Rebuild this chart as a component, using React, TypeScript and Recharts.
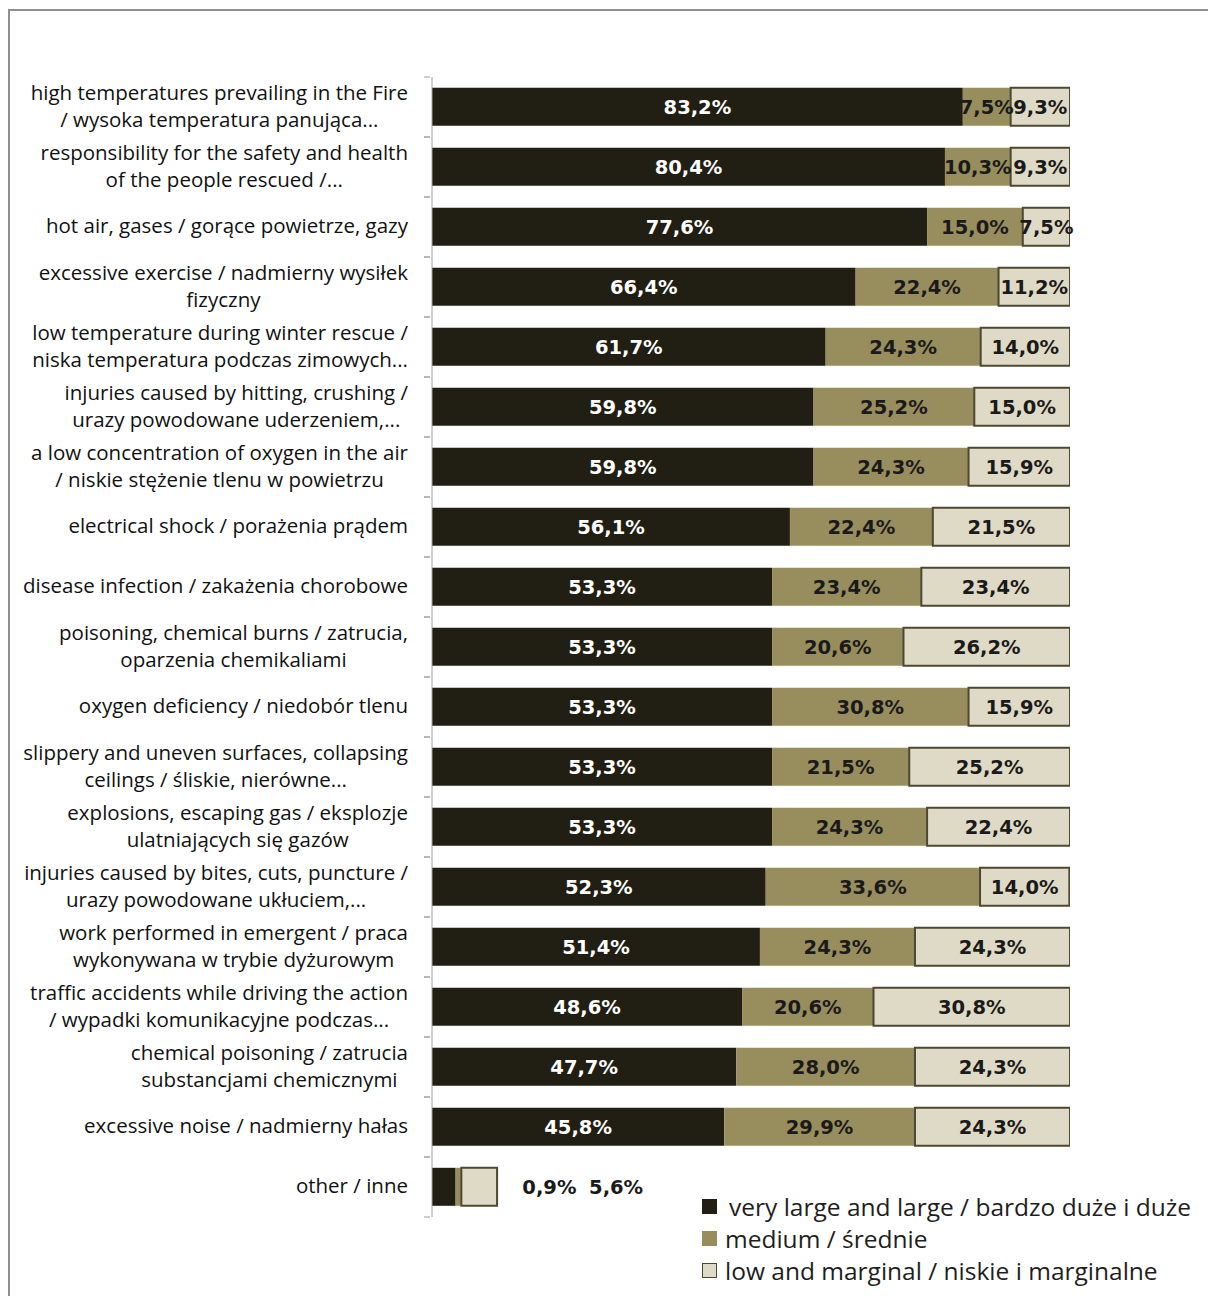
import { Bar, BarChart, LabelList, XAxis, YAxis } from "recharts"

const categoryLines = [
    ["high temperatures prevailing in the Fire", "/ wysoka temperatura panująca..."],
    ["responsibility for the safety and health", "of the people rescued /..."],
    ["hot air, gases / gorące powietrze, gazy"],
    ["excessive exercise / nadmierny wysiłek", "fizyczny"],
    ["low temperature during winter rescue /", "niska temperatura podczas zimowych..."],
    ["injuries caused by hitting, crushing /", "urazy powodowane uderzeniem,..."],
    ["a low concentration of oxygen in the air", "/ niskie stężenie tlenu w powietrzu"],
    ["electrical shock / porażenia prądem"],
    ["disease infection / zakażenia chorobowe"],
    ["poisoning, chemical burns / zatrucia,", "oparzenia chemikaliami"],
    ["oxygen deficiency / niedobór tlenu"],
    ["slippery and uneven surfaces, collapsing", "ceilings / śliskie, nierówne..."],
    ["explosions, escaping gas / eksplozje", "ulatniających się gazów"],
    ["injuries caused by bites, cuts, puncture /", "urazy powodowane ukłuciem,..."],
    ["work performed in emergent / praca", "wykonywana w trybie dyżurowym"],
    ["traffic accidents while driving the action", "/ wypadki komunikacyjne podczas..."],
    ["chemical poisoning / zatrucia", "substancjami chemicznymi"],
    ["excessive noise / nadmierny hałas"],
    ["other / inne"],
]

const veryLarge = [83.2, 80.4, 77.6, 66.4, 61.7, 59.8, 59.8, 56.1, 53.3, 53.3, 53.3, 53.3, 53.3, 52.3, 51.4, 48.6, 47.7, 45.8, 3.7]
const medium = [7.5, 10.3, 15.0, 22.4, 24.3, 25.2, 24.3, 22.4, 23.4, 20.6, 30.8, 21.5, 24.3, 33.6, 24.3, 20.6, 28.0, 29.9, 0.9]
const low = [9.3, 9.3, 7.5, 11.2, 14.0, 15.0, 15.9, 21.5, 23.4, 26.2, 15.9, 25.2, 22.4, 14.0, 24.3, 30.8, 24.3, 24.3, 5.6]

const seriesNames = ["very large and large / bardzo duże i duże", "medium / średnie", "low and marginal / niskie i marginalne"]

const data = categoryLines.map((lines, i) => ({
    name: lines.join(" "),
    veryLarge: veryLarge[i],
    medium: medium[i],
    low: low[i],
}))

const DARK = "#211e13"
const MID = "#988d5d"
const LIGHT = "#dfdac6"
const LIGHT_STROKE = "#4d4832"

const LABEL_FONT = `20.5px "Open Sans"`
const VALUE_FONT = "DejaVu Sans"
const VALUE_SIZE = 19.5
const LAST = categoryLines.length - 1
const BAND = 60

let ctx: CanvasRenderingContext2D | null = null
function measure(s: string) {
    if (!ctx) ctx = document.createElement("canvas").getContext("2d")
    if (!ctx) return s.length * 10
    ctx.font = LABEL_FONT
    return ctx.measureText(s).width
}

const fmt = (v: number) => v.toFixed(1).replace(".", ",") + "%"

function CategoryTick({ x, y, payload }: any) {
    const lines = categoryLines[payload.index] ?? [String(payload.value)]
    const right = x - 22
    const block = Math.max(...lines.map(measure))
    const cx = right - block / 2
    return (
        <g>
            <line x1={x - 6} x2={x} y1={y - BAND / 2} y2={y - BAND / 2} stroke="#a0a0a0" />
            <line x1={x - 6} x2={x} y1={y + BAND / 2} y2={y + BAND / 2} stroke="#a0a0a0" />
            {lines.map((l, i) => (
                <text key={i} x={cx} y={y - 2 + (i - (lines.length - 1) / 2) * 27} textAnchor="middle" dominantBaseline="central"
                    fill="#111111" style={{ font: LABEL_FONT }}>
                    {l}
                </text>
            ))}
        </g>
    )
}

function valueLabel(kind: "veryLarge" | "medium" | "low") {
    return (props: any) => {
        const { x, y, width, height, value, index } = props
        if (index === LAST) {
            if (kind === "veryLarge") return null
            const start = kind === "medium" ? x + width + 61 : x + width + 92
            return (
                <text x={start} y={y + height / 2 + 1} dominantBaseline="central" fill="#1a1a1a"
                    fontFamily={VALUE_FONT} fontWeight="bold" fontSize={VALUE_SIZE}>
                    {fmt(value)}
                </text>
            )
        }
        return (
            <text x={x + width / 2} y={y + height / 2 + 1} textAnchor="middle" dominantBaseline="central"
                fill={kind === "veryLarge" ? "#ffffff" : "#1a1a1a"} fontFamily={VALUE_FONT} fontWeight="bold" fontSize={VALUE_SIZE}>
                {fmt(value)}
            </text>
        )
    }
}

function LegendBox() {
    const swatches = [
        { fill: DARK, stroke: DARK, gap: 12 },
        { fill: MID, stroke: MID, gap: 8 },
        { fill: LIGHT, stroke: LIGHT_STROKE, gap: 8 },
    ]
    return (
        <div style={{ position: "absolute", left: 702, top: 1190, fontFamily: "Open Sans", fontSize: 24.5, color: "#1e1e1e", whiteSpace: "nowrap" }}>
            {swatches.map((s, i) => (
                <div key={i} style={{ display: "flex", alignItems: "center", height: 32 }}>
                    <span style={{ width: 13, height: 13, background: s.fill, border: `1.5px solid ${s.stroke}`, marginRight: s.gap }} />
                    <span>{seriesNames[i]}</span>
                </div>
            ))}
        </div>
    )
}

export default function App() {
    return (
        <div style={{ position: "absolute", left: 0, top: 0, width: 1208, height: 1296, background: "#fff", overflow: "hidden" }}>
            <div style={{ position: "absolute", left: 8, top: 9, width: 1300, height: 1400, borderLeft: "2px solid #8f8f8f", borderTop: "2px solid #8f8f8f" }} />
            <div style={{ position: "absolute", left: 0, top: 0 }}>
                <BarChart width={1208} height={1296} data={data} layout="vertical" barCategoryGap="18%"
                    margin={{ top: 77, bottom: 79, left: 0, right: 138 }}>
                    <XAxis type="number" domain={[0, 100]} allowDataOverflow hide />
                    <YAxis type="category" dataKey="name" width={432} interval={0} axisLine={{ stroke: "#a0a0a0" }}
                        tickLine={false} tickSize={0} tick={<CategoryTick />} />
                    <Bar dataKey="veryLarge" name={seriesNames[0]} stackId="a" fill={DARK} isAnimationActive={false}>
                        <LabelList dataKey="veryLarge" content={valueLabel("veryLarge")} />
                    </Bar>
                    <Bar dataKey="medium" name={seriesNames[1]} stackId="a" fill={MID} isAnimationActive={false}>
                        <LabelList dataKey="medium" content={valueLabel("medium")} />
                    </Bar>
                    <Bar dataKey="low" name={seriesNames[2]} stackId="a" fill={LIGHT} stroke={LIGHT_STROKE} strokeWidth={2} isAnimationActive={false}>
                        <LabelList dataKey="low" content={valueLabel("low")} />
                    </Bar>
                </BarChart>
            </div>
            <LegendBox />
        </div>
    )
}
